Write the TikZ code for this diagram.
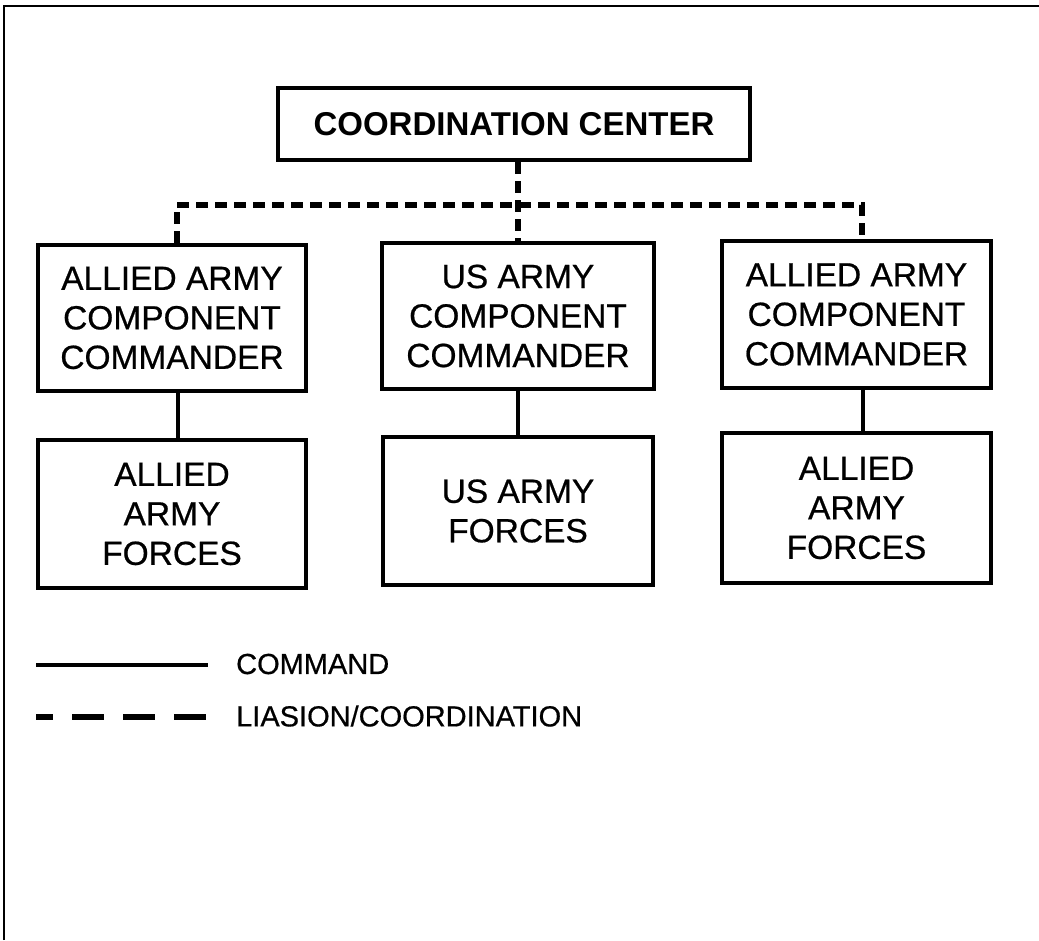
\documentclass[tikz,border=0pt]{standalone}
\usepackage{fontspec}
\setmainfont{Liberation Sans}
\newfontfamily\heavyfont{Liberation Sans}[FakeBold=0.6]
\usetikzlibrary{calc}
\tikzset{
  unitbox/.style={draw=black, line width=4.5pt, align=center, inner sep=0pt,
    font=\heavyfont\fontsize{33.5}{39.5}\selectfont, text=black},
  topbox/.style={unitbox, font=\bfseries\fontsize{33}{39}\selectfont},
  cmdline/.style={draw=black, line width=4.5pt},
  liaison/.style={draw=black, line width=6.5pt, dash pattern=on 12pt off 7pt},
  legtext/.style={anchor=west, inner sep=0pt, font=\heavyfont\fontsize{29}{34}\selectfont, text=black},
  frame/.style={draw=black, line width=1.5pt}
}
\begin{document}
\begin{tikzpicture}[x=1pt,y=1pt]
\useasboundingbox (0,0) rectangle (1039,-940);
% frame lines
\coordinate (f1) at (4,-940);
\coordinate (f2) at (4,-6);
\coordinate (f3) at (1039,-6);
\draw[frame] (f1) -- (f2) -- (f3);

% nodes
\node[topbox, minimum width=472pt, minimum height=72pt] (cc) at (514,-124) {COORDINATION CENTER};

\node[unitbox, minimum width=268pt, minimum height=146pt] (lt) at (172,-318)
  {ALLIED ARMY\\COMPONENT\\COMMANDER};
\node[unitbox, minimum width=272pt, minimum height=146pt] (mt) at (518,-316)
  {US ARMY\\COMPONENT\\COMMANDER};
\node[unitbox, minimum width=269pt, minimum height=147pt] (rt) at (856.5,-314.5)
  {ALLIED ARMY\\COMPONENT\\COMMANDER};

\node[unitbox, minimum width=268pt, minimum height=148pt] (lb) at (172,-514)
  {ALLIED\\ARMY\\FORCES};
\node[unitbox, minimum width=270pt, minimum height=148pt] (mb) at (518,-511)
  {US ARMY\\FORCES};
\node[unitbox, minimum width=269pt, minimum height=150pt] (rb) at (856.5,-508)
  {ALLIED\\ARMY\\FORCES};

% command lines
\draw[cmdline] ($(lt.south)+(6,0)$) -- ($(lb.north)+(6,0)$);
\draw[cmdline] (mt.south) -- (mb.north);
\draw[cmdline] ($(rt.south)+(6.5,0)$) -- ($(rb.north)+(6.5,0)$);

% liaison lines
\coordinate (hbar) at (516,-205);
\draw[liaison] (cc.south -| mt.north) -- (mt.north);
\draw[liaison] ($(lt.north)+(5,0)$) |- (hbar) -| ($(rt.north)+(5.5,0)$);

% legend
\coordinate (c1) at (36,-665);
\coordinate (c2) at (208,-665);
\draw[cmdline] (c1) -- (c2);
\coordinate (d1) at (36,-717);
\coordinate (d2) at (208,-717);
\draw[draw=black, line width=6pt, dash pattern=on 32pt off 19pt, dash phase=15pt] (d1) -- (d2);
\node[legtext] (lcmd) at (236,-664) {COMMAND};
\node[legtext] (lliai) at (236,-716) {LIASION/COORDINATION};
\end{tikzpicture}
\end{document}
